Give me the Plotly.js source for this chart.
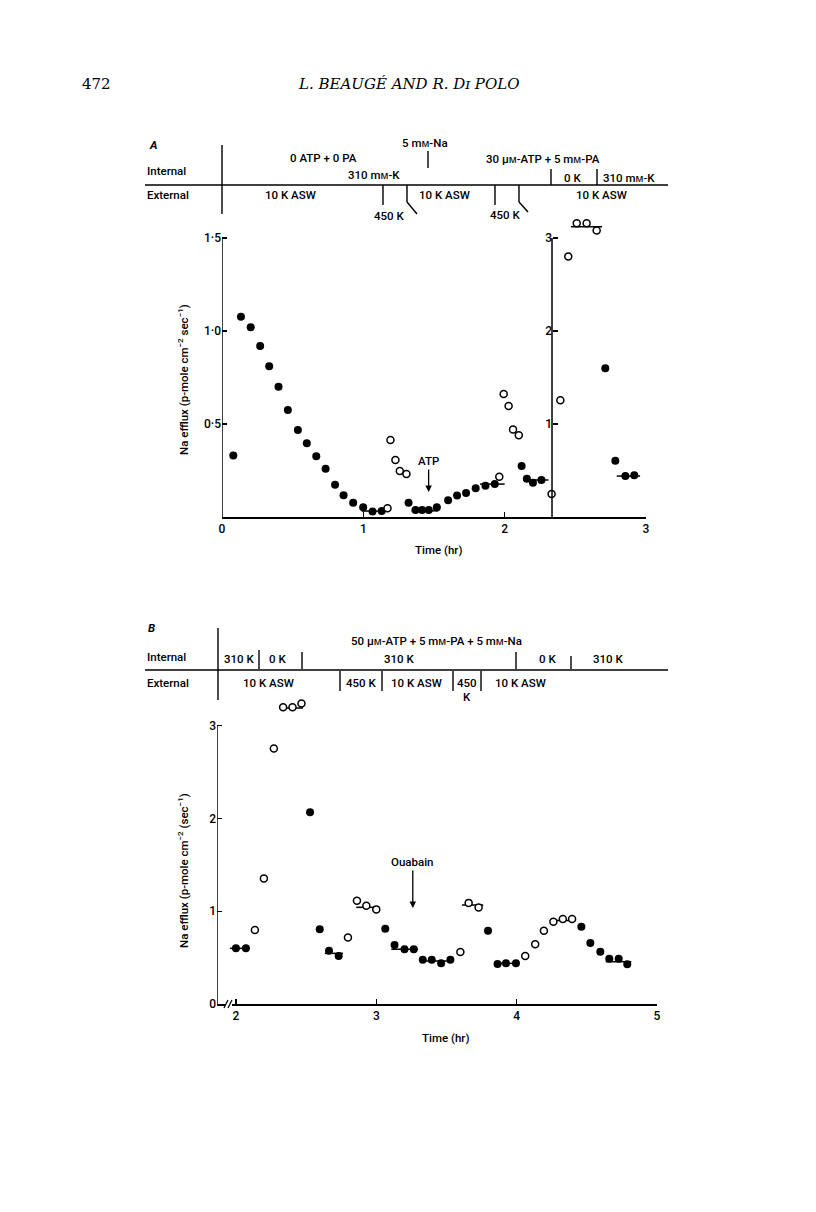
<!DOCTYPE html>
<html>
<head>
<meta charset="utf-8">
<script src="https://cdn.plot.ly/plotly-3.0.1.min.js"></script>
<style>html,body{margin:0;padding:0;background:#fff;}#chart{width:816px;height:1212px;}</style>
</head>
<body>
<div id="chart"></div>
<script>
// ---------- DATA: Panel A (time in hr) ----------
// filled circles, left scale (0-1.5)
const tA_filled = [0.08,0.134,0.203,0.27,0.334,0.40,0.466,0.537,0.60,0.667,0.733,0.80,0.86,0.928,0.999,1.065,1.13,1.32,1.369,1.416,1.463,1.52,1.60,1.663,1.727,1.795,1.864,1.93,2.12,2.157,2.20,2.26];
const vA_filled = [0.33,1.077,1.02,0.92,0.81,0.70,0.575,0.468,0.396,0.326,0.26,0.174,0.117,0.077,0.052,0.029,0.032,0.077,0.038,0.038,0.038,0.052,0.09,0.115,0.129,0.154,0.168,0.177,0.274,0.206,0.184,0.199];
// open circles, left scale
const tA_open = [1.171,1.192,1.227,1.258,1.305,1.962,1.993,2.028,2.059,2.10];
const vA_open = [0.047,0.414,0.306,0.247,0.231,0.217,0.661,0.597,0.471,0.439];
// right scale (0-3)
const tA_open2 = [2.332,2.394,2.45,2.51,2.58,2.651];
const vA_open2 = [0.247,1.255,2.80,3.158,3.158,3.08];
const tA_filled2 = [2.712,2.783,2.854,2.917];
const vA_filled2 = [1.60,0.605,0.44,0.45];
// mean lines
const meanA_t0 = [0.988,1.342,1.826,2.13];
const meanA_t1 = [1.165,1.53,2.0,2.31];
const meanA_v  = [0.032,0.033,0.177,0.199];
const meanA2_t0 = [2.469,2.793];
const meanA2_t1 = [2.689,2.958];
const meanA2_v  = [3.12,0.44];

// ---------- DATA: Panel B ----------
const tB_filled = [2.0,2.071,2.528,2.597,2.663,2.732,3.064,3.13,3.201,3.267,3.331,3.395,3.462,3.528,3.796,3.864,3.924,3.995,4.461,4.525,4.596,4.66,4.727,4.788];
const vB_filled = [0.60,0.60,2.066,0.805,0.574,0.517,0.81,0.636,0.59,0.59,0.477,0.477,0.44,0.477,0.79,0.43,0.44,0.44,0.833,0.657,0.564,0.488,0.488,0.428];
const tB_open = [2.135,2.199,2.27,2.336,2.403,2.467,2.798,2.862,2.929,3.0,3.599,3.658,3.729,4.061,4.132,4.194,4.262,4.329,4.395];
const vB_open = [0.797,1.354,2.755,3.20,3.20,3.24,0.718,1.113,1.06,1.02,0.56,1.09,1.04,0.517,0.643,0.79,0.887,0.916,0.916];
const meanB_t0 = [1.957,2.317,2.633,2.857,3.107,3.31,3.61,3.84,4.237,4.635];
const meanB_t1 = [2.10,2.478,2.763,3.023,3.296,3.55,3.762,4.008,4.42,4.817];
const meanB_v  = [0.60,3.19,0.546,1.042,0.59,0.463,1.067,0.438,0.90,0.456];

// ---------- tick labels ----------
const xTicksA = [0,1,2,3];
const xTickTextA = ['0','1','2','3'];
const yTicksA = [0.5,1,1.5];
const yTickTextA = ['0·5','1·0','1·5'];
const yTicksA2 = [1,2,3];
const yTickTextA2 = ['1','2','3'];
const xTicksB = [2,3,4,5];
const xTickTextB = ['2','3','4','5'];
const yTicksB = [0,1,2,3];
const yTickTextB = ['0','1','2','3'];

// ---------- helpers ----------
const W = 816, H = 1212;
const px = x => x / W;
const py = y => 1 - y / H;
const FONT = 'Roboto, Liberation Sans, Arial, sans-serif';
const SERIF = 'DejaVu Serif, Liberation Serif, serif';
const INK = '#000';

function segs(t0, t1, v) {
  const x = [], y = [];
  for (let i = 0; i < t0.length; i++) { x.push(t0[i], t1[i], null); y.push(v[i], v[i], null); }
  return {x, y};
}
function filled(x, y, xa, ya) {
  return {x, y, xaxis: xa, yaxis: ya, type: 'scatter', mode: 'markers', cliponaxis: false,
    marker: {symbol: 'circle', size: 8, color: INK, line: {width: 0}}, hoverinfo: 'skip'};
}
function open(x, y, xa, ya) {
  return {x, y, xaxis: xa, yaxis: ya, type: 'scatter', mode: 'markers', cliponaxis: false,
    marker: {symbol: 'circle', size: 7, color: '#fff', line: {width: 1.5, color: INK}}, hoverinfo: 'skip'};
}
function meanLine(s, xa, ya) {
  return {x: s.x, y: s.y, xaxis: xa, yaxis: ya, type: 'scatter', mode: 'lines', cliponaxis: false,
    line: {color: INK, width: 1.5}, hoverinfo: 'skip'};
}

const mA = segs(meanA_t0, meanA_t1, meanA_v);
const mA2 = segs(meanA2_t0, meanA2_t1, meanA2_v);
const mB = segs(meanB_t0, meanB_t1, meanB_v);

const data = [
  meanLine(mA, 'x', 'y'),
  meanLine(mA2, 'x', 'y2'),
  filled(tA_filled, vA_filled, 'x', 'y'),
  open(tA_open, vA_open, 'x', 'y'),
  open(tA_open2, vA_open2, 'x', 'y2'),
  filled(tA_filled2, vA_filled2, 'x', 'y2'),
  meanLine(mB, 'x2', 'y3'),
  filled(tB_filled, vB_filled, 'x2', 'y3'),
  open(tB_open, vB_open, 'x2', 'y3')
];

const axBase = {ticks: 'inside', ticklen: 5, tickwidth: 1.4, tickcolor: INK, showline: true, linewidth: 1.5,
  linecolor: INK, showgrid: false, zeroline: false, tickmode: 'array', fixedrange: true,
  tickfont: {family: FONT, size: 12, color: INK, weight: 500}};

const MED = () => ({family: FONT, size: 11.5, color: INK, weight: 500});
function T(text, x, y, o) {
  return Object.assign({text, x: px(x), y: py(y), xref: 'paper', yref: 'paper', showarrow: false,
    xanchor: 'center', yanchor: 'middle', font: MED()}, o || {});
}
function L(x0, y0, x1, y1, w) {
  return {type: 'line', xref: 'paper', yref: 'paper', x0: px(x0), y0: py(y0), x1: px(x1), y1: py(y1),
    line: {color: INK, width: w || 1.4}, layer: 'above'};
}

// pixel scale: panel A left axis 186 px per unit, panel B 92.77 px per unit
const A_TOP = 517 - 1.65 * 186;
const B_TOP = 1004 - 3.3 * 92.77;

const annotations = [
  // page header
  T('472', 80, 84, {xanchor: 'left', font: {family: SERIF, size: 15, color: INK}}),
  T('<i>L. BEAUGÉ AND R. Dɪ POLO</i>', 408, 84, {font: {family: SERIF, size: 15, color: INK}}),
  // Panel A header
  T('<i><b>A</b></i>', 147, 145, {xanchor: 'left'}),
  T('0 ATP + 0 PA', 323, 158),
  T('5 mᴍ-Na', 425, 143),
  T('30 μᴍ-ATP + 5 mᴍ-PA', 543, 159),
  T('Internal', 145, 171, {xanchor: 'left'}),
  T('310 mᴍ-K', 374, 175),
  T('0 K', 572, 178),
  T('310 mᴍ-K', 629, 178),
  T('External', 145, 195, {xanchor: 'left'}),
  T('10 K ASW', 290, 195),
  T('450 K', 389, 216),
  T('10 K ASW', 445, 195),
  T('450 K', 505, 215),
  T('10 K ASW', 601, 195),
  // Panel A axis titles
  T('Time (hr)', 438, 550),
  T('Na efflux (p-mole cm<sup>−2</sup> sec<sup>−1</sup>)', 183, 380, {textangle: -90}),
  // ATP arrow
  {text: 'ATP', x: 1.462, y: 0.134, xref: 'x', yref: 'y', showarrow: true, arrowhead: 2, arrowsize: 1,
   arrowwidth: 1.3, arrowcolor: INK, ax: 0, ay: -31, standoff: 0, font: MED()},
  // Panel B header
  T('<i><b>B</b></i>', 146, 628, {xanchor: 'left'}),
  T('50 μᴍ-ATP + 5 mᴍ-PA + 5 mᴍ-Na', 436, 641),
  T('Internal', 145, 657, {xanchor: 'left'}),
  T('310 K', 239, 659),
  T('0 K', 277, 659),
  T('310 K', 399, 659),
  T('0 K', 547, 659),
  T('310 K', 608, 659),
  T('External', 145, 683, {xanchor: 'left'}),
  T('10 K ASW', 268, 683),
  T('450 K', 361, 683),
  T('10 K ASW', 416, 683),
  T('450', 467, 683),
  T('K', 467, 697),
  T('10 K ASW', 520, 683),
  // Panel B axis titles
  T('Time (hr)', 446, 1038),
  T('Na efflux (p-mole cm<sup>−2</sup> (sec<sup>−1</sup>)', 183, 871, {textangle: -90}),
  // Ouabain arrow
  {text: 'Ouabain', x: 3.26, y: 1.034, xref: 'x2', yref: 'y3', showarrow: true, arrowhead: 2, arrowsize: 1,
   arrowwidth: 1.3, arrowcolor: INK, ax: 0, ay: -46, standoff: 0, font: MED()}
];

const shapes = [
  // y axis lines (stop at the top tick, points above may overshoot)
  {type: 'line', xref: 'x', yref: 'y', x0: 0, x1: 0, y0: 0, y1: 1.5, line: {color: INK, width: 1.5}},
  {type: 'line', xref: 'x', yref: 'y2', x0: 2.335, x1: 2.335, y0: 0, y1: 3, line: {color: INK, width: 1.5}},
  {type: 'line', xref: 'x2', yref: 'y3', x0: 1.865, x1: 1.865, y0: 0, y1: 3, line: {color: INK, width: 1.5}},
  // Panel A header lines
  L(222, 145, 222, 214),
  L(145, 185, 668, 185),
  L(428, 151, 428, 168),
  L(551, 169, 551, 185),
  L(597, 169, 597, 185),
  L(383, 185, 383, 205),
  L(407, 185, 407, 202), L(407, 202, 417, 214),
  L(495, 185, 495, 205),
  L(519, 185, 519, 202), L(519, 202, 528, 212),
  // Panel B header lines
  L(218, 628, 218, 700),
  L(145, 670, 668, 670),
  L(259, 650, 259, 669),
  L(302, 652, 302, 669),
  L(516, 652, 516, 669),
  L(571, 656, 571, 669),
  L(340, 671, 340, 691),
  L(382, 671, 382, 691),
  L(453, 671, 453, 691),
  L(481, 671, 481, 691),
  // axis break on panel B x axis
  {type: 'rect', xref: 'paper', yref: 'paper', x0: px(225), x1: px(232), y0: py(1007), y1: py(1001),
   fillcolor: '#fff', line: {width: 0}, layer: 'above'},
  L(224, 1008, 228, 1000, 1.2),
  L(228, 1008, 232, 1000, 1.2)
];

const layout = {
  width: W, height: H, margin: {l: 0, r: 0, t: 0, b: 0}, paper_bgcolor: '#fff', plot_bgcolor: 'rgba(0,0,0,0)',
  showlegend: false, font: {family: FONT, color: INK},
  xaxis: Object.assign({}, axBase, {domain: [px(222), px(646)], range: [0, 3], anchor: 'y', tickvals: xTicksA, ticktext: xTickTextA}),
  yaxis: Object.assign({}, axBase, {showline: false, domain: [py(517), py(A_TOP)], range: [0, 1.65], anchor: 'x', tickvals: yTicksA, ticktext: yTickTextA}),
  yaxis2: Object.assign({}, axBase, {showline: false, overlaying: 'y', anchor: 'free', position: px(552), side: 'left', range: [0, 3.3], tickvals: yTicksA2, ticktext: yTickTextA2}),
  xaxis2: Object.assign({}, axBase, {domain: [px(217), px(657)], range: [1.865, 5], anchor: 'y3', tickvals: xTicksB, ticktext: xTickTextB}),
  yaxis3: Object.assign({}, axBase, {showline: false, domain: [py(1004), py(B_TOP)], range: [0, 3.3], anchor: 'x2', tickvals: yTicksB, ticktext: yTickTextB}),
  annotations, shapes
};

Plotly.newPlot('chart', data, layout, {staticPlot: true, displayModeBar: false});
</script>
</body>
</html>
